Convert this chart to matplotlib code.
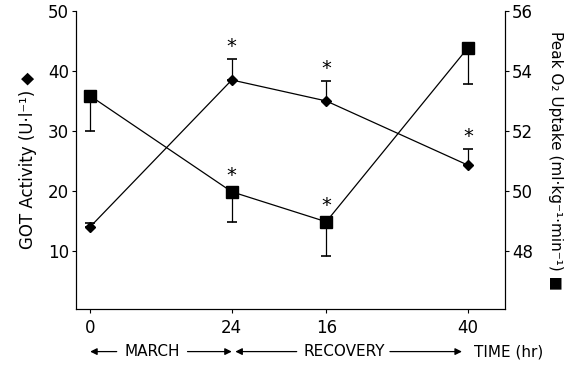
# GOT activity and peak O2 uptake during the march and recovery
import matplotlib
matplotlib.use("Agg")
from matplotlib import pyplot as plt
from matplotlib import transforms

# hours on a running scale: march 0-24, then recovery 16 and 40 hr after
hours = [0, 24, 40, 64]
tick_labels = ['0', '24', '16', '40']

got = [14.0, 38.5, 35.0, 24.3]
got_err = [0.7, 3.5, 3.3, 2.7]
got_sig = [False, True, True, True]

o2 = [53.17, 49.97, 48.97, 54.77]
o2_err = [1.17, 1.0, 1.13, 1.2]
o2_sig = [False, True, True, False]

plt.rcParams['font.family'] = 'DejaVu Sans'
plt.rcParams['font.size'] = 11

fig = plt.figure(figsize=(5.7, 3.67), dpi=100)
ax = fig.add_axes([0.1333, 0.158, 0.7527, 0.812])
ax2 = ax.twinx()

# GOT, error bars upward only
ax.errorbar(hours, got, yerr=[[0] * 4, got_err], fmt='-D', color='black',
            ms=5.5, lw=0.9, elinewidth=0.9, capsize=3.5, capthick=1.2)
for x, y, e, s in zip(hours, got, got_err, got_sig):
    if s:
        ax.annotate('*', (x, y + e), xytext=(0, 2), textcoords='offset points',
                    ha='center', va='bottom', fontsize=14)

# peak O2, error bars downward only
ax2.errorbar(hours, o2, yerr=[o2_err, [0] * 4], fmt='-s', color='black',
             ms=8, lw=0.9, elinewidth=0.9, capsize=3.5, capthick=1.2)
for x, y, s in zip(hours, o2, o2_sig):
    if s:
        ax2.annotate('*', (x, y), xytext=(0, 5), textcoords='offset points',
                     ha='center', va='bottom', fontsize=14)

ax.set_xlim(-2.4, 70.3)
ax.set_ylim(0.3, 50)
ax2.set_ylim(46.06, 56)
ax.set_xticks(hours)
ax.set_xticklabels(tick_labels)
ax.set_yticks([10, 20, 30, 40, 50])
ax2.set_yticks([48, 50, 52, 54, 56])

for a in (ax, ax2):
    a.spines['top'].set_visible(False)
    a.tick_params(direction='out', length=3, width=0.8, labelsize=12, pad=2)
ax.tick_params(axis='x', pad=4)

ax.set_ylabel('GOT Activity (U·l⁻¹) ◆', fontsize=12, labelpad=8)
ax2.set_ylabel('Peak O₂ Uptake (ml·kg⁻¹·min⁻¹) ■', fontsize=11,
               rotation=270, labelpad=11, va='bottom')

# phase labels under the time axis
tr = transforms.blended_transform_factory(ax.transData, fig.transFigure)
yb = 0.042
arrow = dict(arrowstyle='-|>', color='black', lw=0.9, mutation_scale=10,
             shrinkA=0, shrinkB=0)
ax.text(10.5, yb, 'MARCH', transform=tr, ha='center', va='center', fontsize=11)
ax.annotate('', xy=(0, yb), xytext=(4.5, yb), xycoords=tr, textcoords=tr,
            arrowprops=arrow)
ax.annotate('', xy=(24, yb), xytext=(16.5, yb), xycoords=tr, textcoords=tr,
            arrowprops=arrow)
ax.text(43, yb, 'RECOVERY', transform=tr, ha='center', va='center', fontsize=11)
ax.annotate('', xy=(24.6, yb), xytext=(35, yb), xycoords=tr, textcoords=tr,
            arrowprops=arrow)
ax.annotate('', xy=(63, yb), xytext=(50.8, yb), xycoords=tr, textcoords=tr,
            arrowprops=arrow)
ax.text(65, yb, 'TIME (hr)', transform=tr, ha='left', va='center', fontsize=11)

fig.savefig('out.png', dpi=100)
